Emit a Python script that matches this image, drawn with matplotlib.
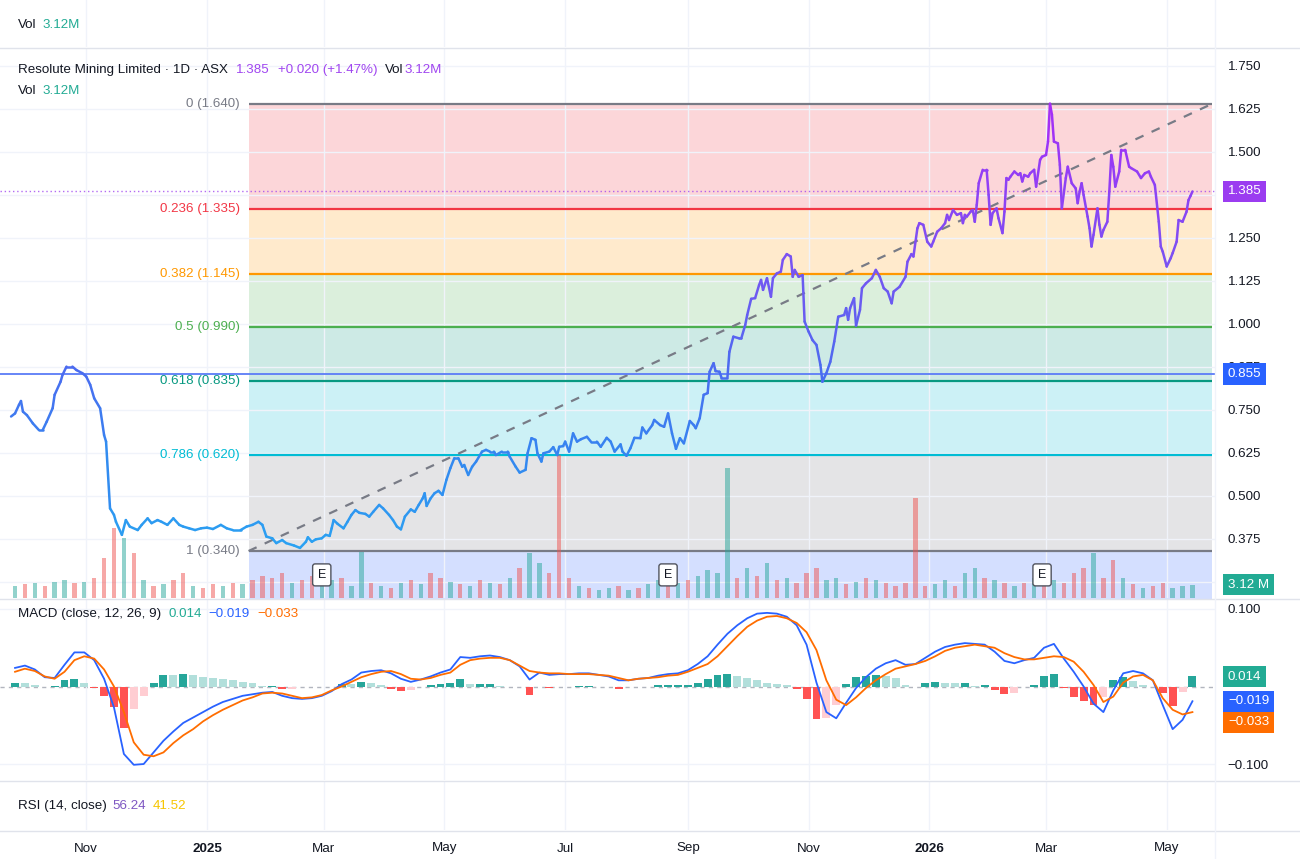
import numpy as np
import pandas as pd
import matplotlib
matplotlib.use("Agg")
import matplotlib.pyplot as plt
import matplotlib.dates as mdates
import matplotlib.transforms as mtransforms
from matplotlib.collections import LineCollection
from matplotlib.colors import LinearSegmentedColormap
from matplotlib.lines import Line2D

plt.rcParams["font.family"] = ["Liberation Sans", "DejaVu Sans"]

W, H = 1300, 859
BASE = pd.Timestamp("2024-11-01")

# daily close: days from 1 Nov 2024 and price (A$)
close_day = [
    -38, -36, -34, -33, -32, -30, -27, -24, -22, -20, -17, -16, -13, -12, -10, -7, -5, -2, 0, 2,
    4, 7, 9, 10, 12, 14, 15, 18, 20, 22, 26, 28, 31, 33, 36, 38, 41, 44, 47, 49,
    52, 55, 58, 61, 64, 68, 71, 74, 78, 81, 84, 87, 89, 91, 94, 96, 99, 101, 105, 108,
    111, 112, 114, 116, 119, 121, 123, 124, 125, 127, 130, 132, 134, 136, 138, 141, 143, 145, 148, 150,
    153, 155, 157, 159, 161, 164, 166, 168, 170, 171, 172, 174, 176, 178, 180, 182, 184, 186, 188, 190,
    191, 193, 195, 197, 200, 202, 204, 206, 207, 210, 213, 214, 217, 219, 222, 223, 225, 227, 228, 230,
    231, 234, 236, 238, 239, 241, 242, 244, 246, 248, 250, 253, 255,
    258, 260, 263, 265, 267, 270, 271, 273, 275, 277, 280, 281, 283, 286, 287, 290, 292, 294, 296, 298,
    300, 302, 305, 307, 308, 310, 312, 314, 315, 317, 318, 320, 321, 324, 325, 327, 330, 331, 333, 334,
    336, 338, 340, 341, 342, 344, 346, 347, 349, 351, 352, 354, 356, 357, 358, 360, 362, 363, 365, 367,
    369, 371, 372, 374, 376, 378, 380, 383, 384, 385, 386, 388, 389, 391, 392, 394, 397, 399, 401, 403,
    405, 407, 408, 411,
    414, 415, 417, 418, 420, 421, 423, 425, 427, 428, 430, 432, 434, 435, 436, 438, 440, 442, 443, 444,
    445, 447, 448, 449, 450, 451, 453, 455, 456, 457, 458, 460, 461, 463, 464, 465, 466, 467, 469, 471,
    472, 473, 474, 476, 477, 479, 480, 482, 483, 485, 486, 487, 488, 489, 491, 492, 493, 495, 496, 498,
    500, 501, 502, 503, 504, 506, 507, 508, 509, 511, 512, 513, 514, 516, 517, 518, 519, 520, 522, 523,
    525, 527, 528, 531, 533, 535, 537, 538, 540, 542, 543, 544, 546, 548, 549, 551, 552, 554, 556, 557,
    558, 559,
]
close_px = [
    0.731, 0.740, 0.765, 0.776, 0.745, 0.735, 0.711, 0.692, 0.692, 0.716, 0.755, 0.794, 0.832, 0.852, 0.876, 0.876, 0.866, 0.857, 0.847, 0.823,
    0.784, 0.755, 0.677, 0.658, 0.464, 0.445, 0.425, 0.387, 0.430, 0.411, 0.401, 0.416, 0.435, 0.421, 0.430, 0.425, 0.416, 0.435, 0.416, 0.411,
    0.406, 0.401, 0.406, 0.408, 0.404, 0.416, 0.406, 0.401, 0.401, 0.411, 0.416, 0.425, 0.416, 0.382, 0.377, 0.363, 0.372, 0.363, 0.356, 0.349,
    0.367, 0.380, 0.367, 0.374, 0.377, 0.387, 0.384, 0.406, 0.430, 0.419, 0.406, 0.425, 0.445, 0.459, 0.451, 0.448, 0.440, 0.454, 0.474, 0.464,
    0.445, 0.430, 0.411, 0.403, 0.440, 0.461, 0.454, 0.474, 0.493, 0.508, 0.471, 0.493, 0.508, 0.515, 0.503, 0.547, 0.581, 0.610, 0.610, 0.585,
    0.590, 0.561, 0.585, 0.600, 0.629, 0.634, 0.629, 0.629, 0.619, 0.629, 0.629, 0.614, 0.585, 0.568, 0.576, 0.624, 0.668, 0.663, 0.624, 0.600,
    0.624, 0.629, 0.642, 0.619, 0.643, 0.645, 0.658, 0.629, 0.682, 0.658, 0.665, 0.672, 0.658,
    0.658, 0.643, 0.669, 0.658, 0.629, 0.650, 0.629, 0.617, 0.639, 0.669, 0.668, 0.699, 0.682, 0.706, 0.721, 0.706, 0.701, 0.740, 0.682, 0.637,
    0.668, 0.653, 0.718, 0.706, 0.697, 0.726, 0.794, 0.799, 0.861, 0.886, 0.863, 0.861, 0.844, 0.844, 0.919, 0.963, 0.958, 0.958, 0.997, 1.026,
    1.073, 1.075, 1.113, 1.128, 1.099, 1.133, 1.079, 1.133, 1.147, 1.152, 1.186, 1.203, 1.196, 1.137, 1.157, 1.137, 1.142, 1.007, 0.978, 0.953,
    0.939, 0.881, 0.832, 0.857, 0.890, 0.949, 1.021, 1.026, 1.046, 1.012, 1.046, 1.075, 0.995, 1.041, 1.104, 1.118, 1.133, 1.157, 1.137, 1.104,
    1.094, 1.060, 1.094, 1.108,
    1.137, 1.181, 1.203, 1.196, 1.278, 1.293, 1.288, 1.239, 1.225, 1.239, 1.268, 1.278, 1.293, 1.317, 1.302, 1.331, 1.317, 1.322, 1.293, 1.317,
    1.312, 1.327, 1.331, 1.297, 1.346, 1.409, 1.448, 1.448, 1.375, 1.288, 1.322, 1.336, 1.307, 1.264, 1.326, 1.424, 1.419, 1.428, 1.443, 1.433,
    1.438, 1.414, 1.433, 1.428, 1.438, 1.448, 1.399, 1.477, 1.486, 1.491, 1.530, 1.640, 1.608, 1.530, 1.525, 1.462, 1.336, 1.424, 1.457, 1.409,
    1.394, 1.351, 1.385, 1.409, 1.375, 1.312, 1.278, 1.225, 1.259, 1.336, 1.288, 1.254, 1.273, 1.297, 1.385, 1.491, 1.457, 1.399, 1.443, 1.506,
    1.506, 1.457, 1.453, 1.443, 1.424, 1.438, 1.443, 1.428, 1.404, 1.297, 1.225, 1.210, 1.167, 1.191, 1.206, 1.239, 1.302, 1.297, 1.326, 1.360,
    1.372, 1.385,
]

# indicator samples, every 5 days from 26 Sep 2024
ind_dates = pd.date_range("2024-09-26", periods=120, freq="5D")
volume_m = [
    2.9, 3.4, 3.6, 2.9, 3.8, 4.3, 3.6, 3.8, 4.8, 9.6, 16.8, 14.4, 10.8, 4.3, 2.9, 3.4, 4.3, 6.0, 2.9, 2.4,
    3.4, 2.9, 3.6, 3.4, 4.3, 5.3, 4.8, 6.0, 3.6, 4.3, 5.3, 3.4, 4.3, 4.8, 2.9, 11.0, 3.6, 2.9, 2.4, 3.6,
    4.3, 3.4, 6.0, 4.8, 3.8, 3.4, 2.9, 4.3, 3.6, 3.4, 4.8, 7.2, 10.8, 8.4, 6.0, 34.3, 4.8, 2.9, 2.4, 1.9,
    2.4, 2.9, 1.9, 2.4, 3.4, 4.3, 2.9, 3.6, 4.3, 5.3, 6.7, 6.0, 31.2, 4.8, 7.2, 5.3, 8.4, 4.3, 4.8, 3.6,
    6.0, 7.2, 4.3, 4.8, 3.4, 3.8, 4.8, 4.3, 3.6, 2.9, 3.6, 24.0, 2.9, 3.4, 4.3, 2.9, 6.0, 7.2, 4.8, 4.3,
    3.6, 2.9, 3.6, 4.8, 6.0, 4.3, 3.6, 6.0, 7.2, 10.8, 4.8, 9.1, 4.8, 3.4, 2.4, 2.9, 3.6, 2.4, 2.9, 3.12,
]
volume_up = [
    1, 0, 1, 0, 1, 1, 0, 1, 0, 0, 0, 1, 0, 1, 0, 1, 0, 0, 1, 0,
    0, 1, 0, 1, 0, 0, 0, 0, 1, 0, 0, 1, 1, 0, 1, 1, 0, 1, 0, 1,
    0, 1, 0, 0, 1, 0, 1, 0, 1, 0, 1, 0, 1, 1, 0, 0, 0, 1, 0, 1,
    1, 0, 1, 0, 1, 1, 0, 1, 0, 1, 1, 1, 1, 0, 1, 0, 1, 0, 1, 0,
    0, 0, 1, 1, 0, 1, 0, 1, 0, 0, 0, 0, 0, 1, 1, 0, 1, 1, 0, 1,
    0, 1, 0, 1, 0, 1, 0, 0, 0, 1, 0, 0, 1, 0, 1, 0, 0, 1, 1, 1,
]
macd_line = [
    0.024, 0.027, 0.022, 0.012, 0.011, 0.028, 0.044, 0.044, 0.034, 0.010,
    -0.027, -0.087, -0.101, -0.100, -0.085, -0.070, -0.058, -0.047, -0.040, -0.033,
    -0.026, -0.020, -0.016, -0.012, -0.010, -0.008, -0.007, -0.012, -0.015, -0.016,
    -0.015, -0.012, -0.006, 0.003, 0.009, 0.018, 0.020, 0.021, 0.017, 0.010,
    0.006, 0.009, 0.013, 0.018, 0.022, 0.038, 0.037, 0.039, 0.040, 0.038,
    0.034, 0.026, 0.009, 0.018, 0.015, 0.016, 0.016, 0.017, 0.017, 0.015,
    0.013, 0.008, 0.008, 0.010, 0.011, 0.014, 0.016, 0.017, 0.021, 0.029,
    0.039, 0.054, 0.068, 0.079, 0.088, 0.094, 0.095, 0.094, 0.090, 0.079,
    0.054, 0.005, -0.033, -0.041, -0.021, -0.002, 0.012, 0.023, 0.030, 0.034,
    0.028, 0.029, 0.037, 0.045, 0.051, 0.054, 0.056, 0.055, 0.054, 0.045,
    0.033, 0.030, 0.034, 0.037, 0.050, 0.055, 0.036, 0.019, 0.000, -0.022,
    -0.033, -0.005, 0.017, 0.020, 0.017, 0.008, -0.024, -0.055, -0.043, -0.019,
]
macd_signal = [
    0.019, 0.023, 0.020, 0.013, 0.010, 0.019, 0.034, 0.039, 0.036, 0.022,
    0.000, -0.033, -0.072, -0.088, -0.090, -0.085, -0.073, -0.063, -0.055, -0.045,
    -0.037, -0.030, -0.024, -0.018, -0.014, -0.009, -0.008, -0.009, -0.012, -0.015,
    -0.014, -0.011, -0.005, 0.000, 0.006, 0.012, 0.016, 0.019, 0.020, 0.016,
    0.010, 0.009, 0.011, 0.015, 0.018, 0.028, 0.034, 0.036, 0.037, 0.037,
    0.034, 0.027, 0.020, 0.018, 0.017, 0.017, 0.016, 0.016, 0.016, 0.015,
    0.014, 0.011, 0.008, 0.010, 0.011, 0.012, 0.014, 0.015, 0.019, 0.024,
    0.029, 0.039, 0.052, 0.065, 0.077, 0.085, 0.090, 0.091, 0.088, 0.082,
    0.070, 0.047, 0.008, -0.017, -0.024, -0.014, -0.002, 0.008, 0.016, 0.023,
    0.026, 0.029, 0.033, 0.039, 0.046, 0.050, 0.052, 0.054, 0.052, 0.050,
    0.043, 0.038, 0.035, 0.035, 0.037, 0.039, 0.038, 0.032, 0.019, 0.002,
    -0.020, -0.013, 0.005, 0.013, 0.015, 0.008, -0.015, -0.030, -0.036, -0.033,
]

# fibonacci retracement drawn from the Jan 2025 low to the Mar 2026 high
fib_start, fib_end = "2025-01-22", "2026-05-24"
fib_levels = ["0", "0.236", "0.382", "0.5", "0.618", "0.786", "1"]
fib_prices = [1.640, 1.335, 1.145, 0.990, 0.835, 0.620, 0.340]
fib_colors = ["#787b86", "#f23645", "#ff9800", "#4caf50", "#089981", "#00bcd4", "#787b86"]
fib_next_price = -0.463  # 1.618 level, below the pane
fib_next_color = "#2962ff"

earnings_dates = ["2025-02-28", "2025-08-22", "2026-02-27"]
hline_price = 0.855
last_price = 1.385

tick_dates = ["2024-11-01", "2025-01-01", "2025-03-01", "2025-05-01", "2025-07-01",
              "2025-09-01", "2025-11-01", "2026-01-01", "2026-03-01", "2026-05-01"]
tick_labels = ["Nov", "2025", "Mar", "May", "Jul", "Sep", "Nov", "2026", "Mar", "May"]
price_ticks = [0.25, 0.375, 0.5, 0.625, 0.75, 0.875, 1.0, 1.125, 1.25, 1.375, 1.5, 1.625, 1.75]

TEXT = "#131722"
GRID = "#f0f3fa"
PURPLE = "#a046f0"
TEAL = "#22ab94"
BLUE = "#2962ff"
ORANGE = "#ff6d00"
FS = 9.6


def days_num(days):
    return mdates.date2num(BASE + pd.to_timedelta(np.asarray(days, dtype=float), unit="D"))


def str_num(dates):
    return mdates.date2num(pd.to_datetime(dates))


fig = plt.figure(figsize=(13, 8.59), dpi=100)
fig.patch.set_facecolor("white")


def px_axes(x0, y0, x1, y1, **kw):
    return fig.add_axes([x0 / W, 1 - y1 / H, (x1 - x0) / W, (y1 - y0) / H], **kw)


PLOT_R = 1215
ax = px_axes(0, 48, PLOT_R, 598)
ax_top = px_axes(0, 0, PLOT_R, 47, sharex=ax)
ax_vol = px_axes(0, 48, PLOT_R, 598, sharex=ax)
ax_px = px_axes(0, 48, PLOT_R, 598, sharex=ax, sharey=ax)
ax_macd = px_axes(0, 600, PLOT_R, 780, sharex=ax)
ax_rsi = px_axes(0, 782, PLOT_R, 830, sharex=ax)

for a in (ax, ax_top, ax_vol, ax_px, ax_macd, ax_rsi):
    for s in a.spines.values():
        s.set_visible(False)
    a.tick_params(length=0, labelbottom=False, labelleft=False, labelright=False)
for a in (ax_vol, ax_px):
    a.patch.set_visible(False)
    a.set_yticks([])
    a.grid(False)
ax_top.set_yticks([])
ax_rsi.set_yticks([])

xlo, xhi = days_num([-43.6, 570.4])
ax.set_xlim(xlo, xhi)
ax.set_xticks(str_num(tick_dates))
ax.set_xticklabels(tick_labels)
ax.set_ylim(0.2035, 1.802)
ax.yaxis.tick_right()
ax.set_yticks(price_ticks)
# 1.375 sits fully under the last-price tag, so it is left blank as on the chart
ax.set_yticklabels(["" if v == 1.375 else f"{v:.3f}" for v in price_ticks])
ax.tick_params(axis="y", labelright=True, pad=9, labelsize=FS, labelcolor=TEXT)
for a in (ax, ax_top, ax_macd, ax_rsi):
    a.grid(True, axis="x", color=GRID, lw=1)
ax.grid(True, axis="y", color=GRID, lw=1)

# fibonacci fills, levels and labels
f0, f1 = str_num([fib_start, fib_end])
bounds = fib_prices + [fib_next_price]
fill_colors = fib_colors[1:] + [fib_next_color]
for hi, lo, c in zip(bounds[:-1], bounds[1:], fill_colors):
    ax.fill_between([f0, f1], lo, hi, color=c, alpha=0.2, lw=0, zorder=1)
for lvl, p, c in zip(fib_levels, fib_prices, fib_colors):
    ax.plot([f0, f1], [p, p], color=c, lw=1.6, zorder=2, solid_capstyle="butt")
    ax.annotate(f"{lvl} ({p:.3f})", xy=(f0, p), xytext=(-6, 0), textcoords="offset points",
                ha="right", va="center", color=c, fontsize=FS)
ax.plot([f0, f1], [fib_prices[-1], fib_prices[0]], color="#787b86", lw=1.6,
        ls=(0, (4, 4)), zorder=3)

# volume overlay
vx = mdates.date2num(ind_dates)
vcol = ["#26a69a" if u else "#ef5350" for u in volume_up]
ax_vol.bar(vx, volume_m, width=2.2, color=vcol, alpha=0.5, lw=0)
ax_vol.set_ylim(0, 132)

# price line, coloured by price level
cmap = LinearSegmentedColormap.from_list(
    "tvline", [(0, "#2aa3f2"), (0.2, "#3388f0"), (0.4, "#4a6cf0"), (0.65, "#7a52f2"), (1, "#a82cf7")])
cx = days_num(close_day)
cy = np.array(close_px)
pts = np.column_stack([cx, cy]).reshape(-1, 1, 2)
segs = np.concatenate([pts[:-1], pts[1:]], axis=1)
mid = (cy[:-1] + cy[1:]) / 2
lc = LineCollection(segs, colors=cmap((mid - 0.34) / 1.3), linewidths=1.8,
                    capstyle="round", joinstyle="round", zorder=5)
ax_px.add_collection(lc)
ax_px.axhline(last_price, color=PURPLE, lw=1, ls=(0, (1, 2)), alpha=0.8, zorder=4)
ax_px.axhline(hline_price, color="#5b7cf7", lw=1.3, zorder=4)

# earnings markers
e_tr = mtransforms.blended_transform_factory(ax_px.transData, ax_px.transAxes)
for d in str_num(earnings_dates):
    ax_px.text(d, 0.042, "E", transform=e_tr, ha="center", va="center", fontsize=9, color=TEXT,
               bbox=dict(boxstyle="round,pad=0.4,rounding_size=0.2", fc="white", ec="#50535e", lw=1),
               zorder=6)


def tag(a, y, s, color):
    tr = mtransforms.blended_transform_factory(a.transAxes, a.transData)
    a.text(1228 / PLOT_R, y, s, transform=tr, ha="left", va="center", color="white",
           fontsize=FS, clip_on=False, zorder=20,
           bbox=dict(boxstyle="square,pad=0.35", fc=color, ec="none"))


tag(ax, last_price, f"{last_price:.3f}", "#9b3cf0")
tag(ax, hline_price, f"{hline_price:.3f}", BLUE)
tag(ax, 0.242, "3.12 M", TEAL)

# MACD pane
macd = np.array(macd_line)
sig = np.array(macd_signal)
hist = macd - sig
prev = np.concatenate([[hist[0]], hist[:-1]])
hcol = []
for h, p in zip(hist, prev):
    if h >= 0:
        hcol.append("#26a69a" if h >= p else "#b2dfdb")
    else:
        hcol.append("#ff5252" if h < p else "#ffcdd2")
mx = mdates.date2num(ind_dates)
ax_macd.bar(mx, hist, width=4.0, color=hcol, lw=0, zorder=2)
ax_macd.plot(mx, macd, color=BLUE, lw=1.3, zorder=3)
ax_macd.plot(mx, sig, color=ORANGE, lw=1.3, zorder=3)
ax_macd.axhline(0, color="#b2b5be", lw=1, ls=(0, (3, 3)), zorder=1)
ax_macd.set_ylim(-0.1206, 0.1116)
ax_macd.yaxis.tick_right()
ax_macd.set_yticks([-0.1, 0.1])
ax_macd.set_yticklabels(["\u22120.100", "0.100"])
ax_macd.tick_params(axis="y", labelright=True, pad=9, labelsize=FS, labelcolor=TEXT)
ax_macd.grid(True, axis="y", color=GRID, lw=1)
tag(ax_macd, 0.0125, f"{hist[-1]:.3f}", TEAL)
tag(ax_macd, -0.019, f"\u2212{abs(macd[-1]):.3f}", BLUE)
tag(ax_macd, -0.046, f"\u2212{abs(sig[-1]):.3f}", ORANGE)

# time axis
ax_rsi.tick_params(axis="x", labelbottom=True, pad=9, labelsize=FS, labelcolor=TEXT)
for t in ax_rsi.get_xticklabels():
    if t.get_text().isdigit():
        t.set_fontweight("bold")

# pane separators
for y in (47.5, 599, 781, 830.5):
    fig.add_artist(Line2D([0, 1], [1 - y / H, 1 - y / H], color="#e0e3eb", lw=1))
fig.add_artist(Line2D([PLOT_R / W, PLOT_R / W], [0, 1], color="#f0f3fa", lw=1))

renderer = fig.canvas.get_renderer()


def text_run(x, y, parts, size=FS):
    for s, color, gap in parts:
        t = fig.text(x / W, 1 - y / H, s, color=color, fontsize=size, ha="left", va="center")
        x += t.get_window_extent(renderer=renderer).width + gap


text_run(18, 25, [("Vol", TEXT, 6), ("3.12M", TEAL, 0)])
text_run(18, 70, [("Resolute Mining Limited \u00b7 1D \u00b7 ASX", TEXT, 8),
                  ("1.385", PURPLE, 8), ("+0.020 (+1.47%)", PURPLE, 8),
                  ("Vol", TEXT, 1), ("3.12M", PURPLE, 0)])
text_run(18, 91, [("Vol", TEXT, 6), ("3.12M", TEAL, 0)])
text_run(18, 614, [("MACD (close, 12, 26, 9)", TEXT, 7), ("0.014", TEAL, 7),
                   ("\u22120.019", BLUE, 7), ("\u22120.033", ORANGE, 0)])
text_run(18, 806, [("RSI (14, close)", TEXT, 6), ("56.24", "#7e57c2", 6), ("41.52", "#f7c600", 0)])

fig.savefig("out.png", dpi=100, facecolor="white")
